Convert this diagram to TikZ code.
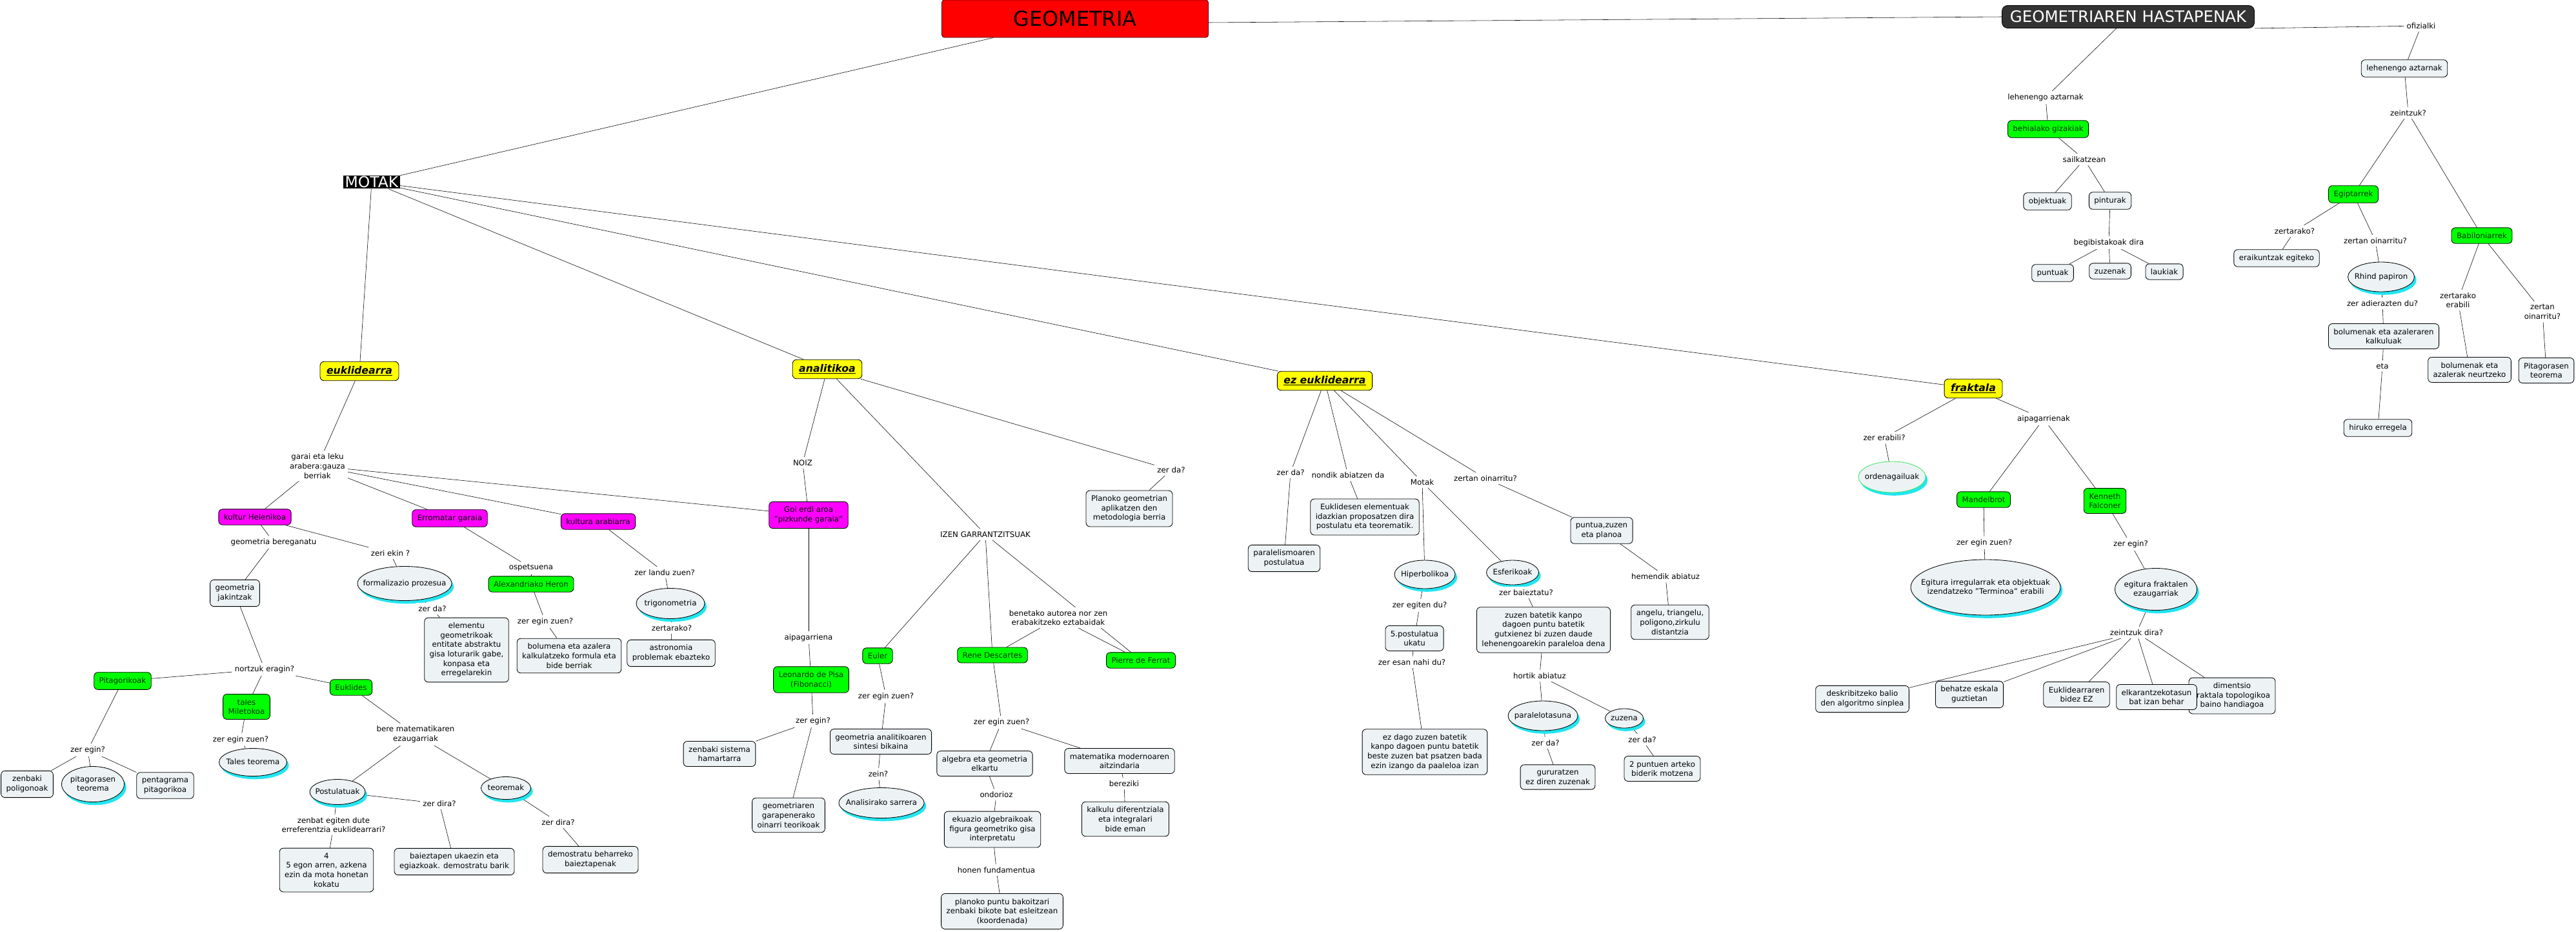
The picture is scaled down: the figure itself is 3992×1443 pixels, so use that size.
\documentclass[tikz,border=0pt]{standalone}
\usepackage{fontspec}
\setmainfont{DejaVu Sans}
\usetikzlibrary{shapes.geometric,shadows,backgrounds}
\definecolor{pale}{HTML}{EDF3F5}
\definecolor{lima}{HTML}{00FF00}
\definecolor{grntxt}{HTML}{003300}
\definecolor{fuxia}{HTML}{FF00FF}
\definecolor{hori}{HTML}{FFFF00}
\definecolor{gorri}{HTML}{FF0000}
\definecolor{ilun}{HTML}{333333}
\definecolor{ziano}{HTML}{22E5F0}
\definecolor{grnline}{HTML}{3CE664}
\newcommand\mapfont{\fontsize{8.4}{10.4}\selectfont}
\newcommand\elltxt[1]{\smash{\makebox[0pt]{\raisebox{-.3em}{\begin{tabular}[c]{@{}c@{}}#1\end{tabular}}}}}
\tikzset{box/.style={draw,fill=pale,rounded corners=1.5mm,align=center,font=\mapfont,inner xsep=2mm,inner ysep=1.9mm,line width=0.6pt},grnbox/.style={box,fill=lima,text=grntxt},magbox/.style={box,fill=fuxia},ylwbox/.style={box,fill=hori,font=\fontsize{11.2}{13}\selectfont\bfseries\itshape,inner xsep=2.5mm,inner ysep=1.8mm},lbl/.style={fill=white,align=center,font=\mapfont,inner sep=1mm},ellbox/.style 2 args={ellipse,draw,fill=pale,line width=0.6pt,font=\mapfont,inner sep=0pt,minimum width=#1*0.25mm,minimum height=#2*0.25mm,drop shadow={shadow xshift=0.8mm,shadow yshift=-1.2mm,fill=ziano,opacity=1}},redbox/.style={draw=black!70!red,fill=gorri,rounded corners=1mm,line width=0.6pt,font=\fontsize{22.7}{24}\selectfont,minimum width=103.25mm,minimum height=14.5mm},darkbox/.style={draw=black,fill=ilun,text=white,rounded corners=2.2mm,line width=0.6pt,font=\fontsize{17.4}{19}\selectfont,minimum width=97.75mm,minimum height=8.75mm},blackbox/.style={fill=black,text=white,font=\fontsize{16.7}{18}\selectfont,inner xsep=0.6mm,inner ysep=0.4mm}}
\begin{document}
\begin{tikzpicture}[x=0.25mm,y=-0.25mm]
\useasboundingbox (0,0) rectangle (3992,1443);
\node[redbox] (geo) at (1666,29) {GEOMETRIA};
\node[darkbox] (hast) at (3298,26) {GEOMETRIAREN HASTAPENAK};
\node[blackbox] (motak) at (576,282) {MOTAK};
% hastapenak
\node[lbl] (ofz) at (3752,40) {ofizialki};
\node[box] (lehbox) at (3726,106) {lehenengo aztarnak};
\node[lbl] (zein) at (3732,175) {zeintzuk?};
\node[grnbox] (egip) at (3647,301) {Egiptarrek};
\node[grnbox] (babi) at (3846,365) {Babiloniarrek};
\node[lbl] (lehlbl) at (3170,151) {lehenengo aztarnak};
\node[grnbox] (behi) at (3174,200) {behialako gizakiak};
\node[lbl] (sail) at (3230,247) {sailkatzean};
\node[box] (obj) at (3173,312) {objektuak};
\node[box] (pint) at (3270,311) {pinturak};
\node[lbl] (begi) at (3268,376) {begibistakoak dira};
\node[box] (punt) at (3181,423) {puntuak};
\node[box] (zuzk) at (3270,420) {zuzenak};
\node[box] (lauk) at (3354,421) {laukiak};
\node[lbl] (egzer) at (3556,358) {zertarako?};
\node[box] (eraik) at (3528,400) {eraikuntzak egiteko};
\node[lbl] (egoin) at (3681,373) {zertan oinarritu?};
\node[ellbox={103}{46}] (rhind) at (3690,429) {\elltxt{Rhind papiron}};
\node[lbl] (adier) at (3692,470) {zer adierazten du?};
\node[box] (bolk) at (3694,521) {bolumenak eta azaleraren\\kalkuluak};
\node[lbl] (eta) at (3692,567) {eta};
\node[box] (hiru) at (3685,663) {hiruko erregela};
\node[lbl] (babzer) at (3809,465) {zertarako\\erabili};
\node[box] (babneu) at (3827,573) {bolumenak eta\\azalerak neurtzeko};
\node[lbl] (baboin) at (3940,483) {zertan\\oinarritu?};
\node[box] (pitt) at (3946,574) {Pitagorasen\\teorema};
% euklidearra
\node[ylwbox] (eukl) at (557,575) {\underline{euklidearra}};
\node[lbl] (garai) at (492,722) {garai eta leku\\arabera:gauza\\berriak};
\node[magbox] (helen) at (395,801) {kultur Helenikoa};
\node[magbox] (erro) at (697,803) {Erromatar garaia};
\node[magbox] (arab) at (927,808) {kultura arabiarra};
\node[lbl] (bereg) at (424,840) {geometria bereganatu};
\node[lbl] (zeri) at (605,857) {zeri ekin ?};
\node[ellbox={146}{53}] (formal) at (627,904) {\elltxt{formalizazio prozesua}};
\node[lbl] (ospe) at (823,880) {ospetsuena};
\node[grnbox] (heron) at (823,905) {Alexandriako Heron};
\node[box] (jakin) at (364,919) {geometria\\jakintzak};
\node[lbl] (zerda1) at (670,943) {zer da?};
\node[lbl] (zeginh) at (845,963) {zer egin zuen?};
\node[lbl] (landu) at (1030,887) {zer landu zuen?};
\node[ellbox={106}{47}] (trig) at (1039,935) {\elltxt{trigonometria}};
\node[lbl] (zertar) at (1041,973) {zertarako?};
\node[box] (astro) at (1040,1012) {astronomia\\problemak ebazteko};
\node[box] (elem) at (723,1007) {elementu\\geometrikoak\\entitate abstraktu\\gisa loturarik gabe,\\konpasa eta\\erregelarekin};
\node[box] (bolf) at (882,1016) {bolumena eta azalera\\kalkulatzeko formula eta\\bide berriak};
\node[lbl] (nortz) at (410,1037) {nortzuk eragin?};
\node[grnbox] (pitag) at (190,1055) {Pitagorikoak};
\node[grnbox] (tales) at (382,1095) {tales\\Miletokoa};
\node[grnbox] (eukls) at (544,1065) {Euklides};
\node[lbl] (pzer) at (136,1162) {zer egin?};
\node[box] (zenpol) at (42,1215) {zenbaki\\poligonoak};
\node[ellbox={97}{55}] (pitell) at (144,1215) {\elltxt{pitagorasen\\teorema}};
\node[box] (penta) at (256,1217) {pentagrama\\pitagorikoa};
\node[lbl] (tzer) at (373,1146) {zer egin zuen?};
\node[ellbox={105}{43}] (talt) at (392,1181) {\elltxt{Tales teorema}};
\node[lbl] (berem) at (644,1138) {bere matematikaren\\ezaugarriak};
\node[ellbox={86}{39}] (postu) at (523,1227) {\elltxt{Postulatuak}};
\node[ellbox={77}{35}] (teor) at (784,1221) {\elltxt{teoremak}};
\node[lbl] (zenbat) at (517,1278) {zenbat egiten dute\\erreferentzia euklidearrari?};
\node[lbl] (pzerd) at (681,1245) {zer dira?};
\node[lbl] (tzerd) at (865,1274) {zer dira?};
\node[box] (lau) at (506,1348) {4\\5 egon arren, azkena\\ezin da mota honetan\\kokatu};
\node[box] (baiez) at (704,1335) {baieztapen ukaezin eta\\egiazkoak. demostratu barik};
\node[box] (demo) at (915,1332) {demostratu beharreko\\baieztapenak};
% analitikoa
\node[ylwbox] (anal) at (1282,572) {\underline{analitikoa}};
\node[lbl] (noiz) at (1244,717) {NOIZ};
\node[magbox] (goi) at (1253,798) {Goi erdi aroa\\"pizkunde garaia"};
\node[lbl] (izen) at (1527,828) {IZEN GARRANTZITSUAK};
\node[lbl] (azerda) at (1815,728) {zer da?};
\node[box] (planok) at (1750,788) {Planoko geometrian\\aplikatzen den\\metodologia berria};
\node[lbl] (bene) at (1640,957) {benetako autorea nor zen\\erabakitzeko eztabaidak};
\node[lbl] (aipa) at (1253,988) {aipagarriena};
\node[grnbox] (leon) at (1257,1053) {Leonardo de Pisa\\(Fibonacci)};
\node[lbl] (lzer) at (1260,1117) {zer egin?};
\node[box] (hamar) at (1115,1168) {zenbaki sistema\\hamartarra};
\node[box] (garap) at (1222,1263) {geometriaren\\garapenerako\\oinarri teorikoak};
\node[grnbox] (euler) at (1360,1016) {Euler};
\node[lbl] (ezer) at (1373,1079) {zer egin zuen?};
\node[box] (sint) at (1365,1149) {geometria analitikoaren\\sintesi bikaina};
\node[lbl] (zein2) at (1361,1199) {zein?};
\node[ellbox={132}{47}] (anls) at (1366,1244) {\elltxt{Analisirako sarrera}};
\node[grnbox] (rene) at (1538,1015) {Rene Descartes};
\node[grnbox] (pierre) at (1768,1023) {Pierre de Ferrat};
\node[lbl] (rzer) at (1552,1119) {zer egin zuen?};
\node[box] (algeb) at (1526,1183) {algebra eta geometria\\elkartu};
\node[lbl] (ondo) at (1544,1231) {ondorioz};
\node[box] (ekua) at (1538,1285) {ekuazio algebraikoak\\figura geometriko gisa\\interpretatu};
\node[lbl] (fund) at (1544,1348) {honen fundamentua};
\node[box] (koord) at (1553,1412) {planoko puntu bakoitzari\\zenbaki bikote bat esleitzean\\(koordenada)};
\node[box] (moder) at (1735,1179) {matematika modernoaren\\aitzindaria};
\node[lbl] (berez) at (1742,1214) {bereziki};
\node[box] (kalk) at (1744,1269) {kalkulu diferentziala\\eta integralari\\bide eman};
% ez euklidearra
\node[ylwbox] (ezeu) at (2053,590) {\underline{ez euklidearra}};
\node[lbl] (ezzer) at (2000,732) {zer da?};
\node[lbl] (nondik) at (2089,736) {nondik abiatzen da};
\node[lbl] (motak2) at (2204,747) {Motak};
\node[lbl] (zertan2) at (2302,741) {zertan oinarritu?};
\node[box] (elemtu) at (2115,801) {Euklidesen elementuak\\idazkian proposatzen dira\\postulatu eta teorematik.};
\node[box] (paral) at (1990,865) {paralelismoaren\\postulatua};
\node[ellbox={94}{44}] (hiper) at (2208,890) {\elltxt{Hiperbolikoa}};
\node[ellbox={81}{38}] (esfer) at (2344,887) {\elltxt{Esferikoak}};
\node[box] (puntz) at (2482,822) {puntua,zuzen\\eta planoa};
\node[lbl] (hemen) at (2581,893) {hemendik abiatuz};
\node[box] (angel) at (2588,964) {angelu, triangelu,\\poligono,zirkulu\\distantzia};
\node[lbl] (zegit) at (2200,938) {zer egiten du?};
\node[lbl] (zbaie) at (2365,918) {zer baieztatu?};
\node[box] (zuzbat) at (2392,976) {zuzen batetik kanpo\\dagoen puntu batetik\\gutxienez bi zuzen daude\\lehenengoarekin paraleloa dena};
\node[box] (postu5) at (2192,989) {5.postulatua\\ukatu};
\node[lbl] (esan) at (2188,1026) {zer esan nahi du?};
\node[box] (ezdago) at (2208,1165) {ez dago zuzen batetik\\kanpo dagoen puntu batetik\\beste zuzen bat psatzen bada\\ezin izango da paaleloa izan};
\node[lbl] (hortik) at (2386,1047) {hortik abiatuz};
\node[ellbox={108}{46}] (paralt) at (2391,1109) {\elltxt{paralelotasuna}};
\node[ellbox={59}{30}] (zuzena) at (2517,1113) {\elltxt{zuzena}};
\node[lbl] (pzda) at (2395,1151) {zer da?};
\node[lbl] (zzda) at (2545,1146) {zer da?};
\node[box] (gurur) at (2414,1204) {gururatzen\\ez diren zuzenak};
\node[box] (motz) at (2576,1191) {2 puntuen arteko\\biderik motzena};
% fraktala
\node[ylwbox] (frak) at (3058,602) {\underline{fraktala}};
\node[lbl] (erab) at (2920,678) {zer erabili?};
\node[ellbox={104}{48},draw=grnline] (orden) at (2932,739) {\elltxt{ordenagailuak}};
\node[lbl] (aipak) at (3167,649) {aipagarrienak};
\node[grnbox] (mand) at (3074,774) {Mandelbrot};
\node[grnbox] (kenn) at (3262,776) {Kenneth\\Falconer};
\node[lbl] (mzer) at (3075,841) {zer egin zuen?};
\node[lbl] (kzer) at (3302,843) {zer egin?};
\node[ellbox={232}{86}] (mell) at (3077,910) {\elltxt{Egitura irregularrak eta objektuak\\izendatzeko "Terminoa" erabili}};
\node[ellbox={127}{65}] (kell) at (3341,913) {\elltxt{egitura fraktalen\\ezaugarriak}};
\node[lbl] (zdira) at (3311,980) {zeintzuk dira?};
\node[box] (desk) at (2886,1083) {deskribitzeko balio\\den algoritmo sinplea};
\node[box] (behat) at (3052,1076) {behatze eskala\\guztietan};
\node[box] (eukez) at (3218,1076) {Euklidearraren\\bidez EZ};
\node[box] (dimen) at (3459,1078) {dimentsio\\fraktala topologikoa\\baino handiagoa};
\node[box] (elkar) at (3342,1080) {elkarantzekotasun\\bat izan behar};
\begin{scope}[on background layer,line width=0.7pt]
\fill[white] (0,0) rectangle (3992,1443);
\draw (geo) -- (motak);
\draw ([yshift=-1.5mm]geo.east) -- (hast.west);
\draw (hast) -- (lehlbl);
\draw (hast.south east) -- (ofz);
\draw (ofz) -- (lehbox);
\draw (lehbox) -- (zein);
\draw (zein) -- (egip);
\draw (zein) -- (babi);
\draw (lehlbl) -- (behi);
\draw (behi) -- (sail);
\draw (sail) -- (obj);
\draw (sail) -- (pint);
\draw (pint) -- (begi);
\draw (begi) -- (punt);
\draw (begi) -- (zuzk);
\draw (begi) -- (lauk);
\draw (egip) -- (egzer);
\draw (egzer) -- (eraik);
\draw (egip) -- (egoin);
\draw (egoin) -- (rhind);
\draw (rhind) -- (adier);
\draw (adier) -- (bolk);
\draw (bolk) -- (eta);
\draw (eta) -- (hiru);
\draw (babi) -- (babzer);
\draw (babzer) -- (babneu);
\draw (babi) -- (baboin);
\draw (baboin) -- (pitt);
\draw (motak) -- (eukl);
\draw (motak) -- (anal);
\draw (motak) -- (ezeu);
\draw (motak) -- (frak);
\draw (eukl) -- (garai);
\draw (garai) -- (helen);
\draw (garai) -- (erro);
\draw (garai) -- (arab);
\draw (garai) -- (goi);
\draw (helen) -- (bereg);
\draw (bereg) -- (jakin);
\draw (jakin) -- (nortz);
\draw (nortz) -- (pitag);
\draw (nortz) -- (tales);
\draw (nortz) -- (eukls);
\draw (helen) -- (zeri);
\draw (zeri) -- (formal);
\draw (formal) -- (zerda1);
\draw (zerda1) -- (elem);
\draw (erro) -- (ospe);
\draw (ospe) -- (heron);
\draw (heron) -- (zeginh);
\draw (zeginh) -- (bolf);
\draw (arab) -- (landu);
\draw (landu) -- (trig);
\draw (trig) -- (zertar);
\draw (zertar) -- (astro);
\draw (pitag) -- (pzer);
\draw (pzer) -- (zenpol);
\draw (pzer) -- (pitell);
\draw (pzer) -- (penta);
\draw (tales) -- (tzer);
\draw (tzer) -- (talt);
\draw (eukls) -- (berem);
\draw (berem) -- (postu);
\draw (berem) -- (teor);
\draw (postu) -- (zenbat);
\draw (zenbat) -- (lau);
\draw (postu) -- (pzerd);
\draw (pzerd) -- (baiez);
\draw (teor) -- (tzerd);
\draw (tzerd) -- (demo);
\draw (anal) -- (noiz);
\draw (noiz) -- (goi);
\draw (anal) -- (izen);
\draw (anal) -- (azerda);
\draw (azerda) -- (planok);
\draw (goi) -- (aipa);
\draw (aipa) -- (leon);
\draw (leon) -- (lzer);
\draw (lzer) -- (hamar);
\draw (lzer) -- (garap);
\draw (izen) -- (euler);
\draw (izen) -- (rene);
\draw (izen) -- (pierre);
\draw (bene) -- (rene);
\draw (bene) -- (pierre);
\draw (euler) -- (ezer);
\draw (ezer) -- (sint);
\draw (sint) -- (zein2);
\draw (zein2) -- (anls);
\draw (rene) -- (rzer);
\draw (rzer) -- (algeb);
\draw (algeb) -- (ondo);
\draw (ondo) -- (ekua);
\draw (ekua) -- (fund);
\draw (fund) -- (koord);
\draw (rzer) -- (moder);
\draw (moder) -- (berez);
\draw (berez) -- (kalk);
\draw (ezeu) -- (ezzer);
\draw (ezzer) -- (paral);
\draw (ezeu) -- (nondik);
\draw (nondik) -- (elemtu);
\draw (ezeu) -- (motak2);
\draw (motak2) -- (hiper);
\draw (motak2) -- (esfer);
\draw (ezeu) -- (zertan2);
\draw (zertan2) -- (puntz);
\draw (puntz) -- (hemen);
\draw (hemen) -- (angel);
\draw (hiper) -- (zegit);
\draw (zegit) -- (postu5);
\draw (postu5) -- (esan);
\draw (esan) -- (ezdago);
\draw (esfer) -- (zbaie);
\draw (zbaie) -- (zuzbat);
\draw (zuzbat) -- (hortik);
\draw (hortik) -- (paralt);
\draw (hortik) -- (zuzena);
\draw (paralt) -- (pzda);
\draw (pzda) -- (gurur);
\draw (zuzena) -- (zzda);
\draw (zzda) -- (motz);
\draw (frak) -- (erab);
\draw (erab) -- (orden);
\draw (frak) -- (aipak);
\draw (aipak) -- (mand);
\draw (aipak) -- (kenn);
\draw (mand) -- (mzer);
\draw (mzer) -- (mell);
\draw (kenn) -- (kzer);
\draw (kzer) -- (kell);
\draw (kell) -- (zdira);
\draw (zdira) -- (desk);
\draw (zdira) -- (behat);
\draw (zdira) -- (eukez);
\draw (zdira) -- (elkar);
\draw (zdira) -- (dimen);
\end{scope}
\end{tikzpicture}
\end{document}
